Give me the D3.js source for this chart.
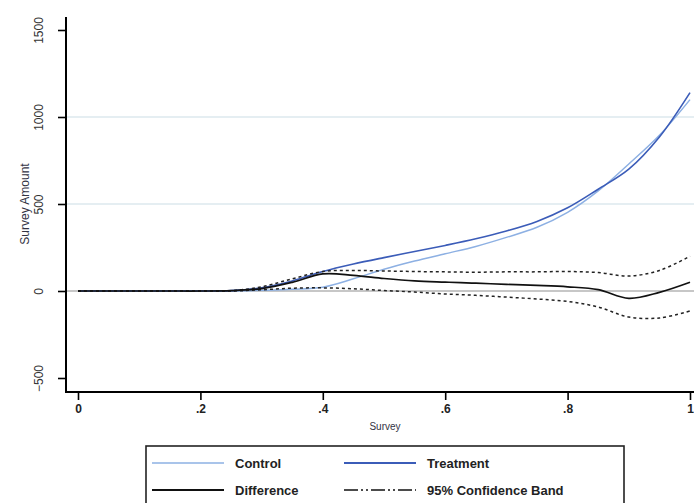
<!DOCTYPE html>
<html>
<head>
<meta charset="utf-8">
<script src="https://cdn.jsdelivr.net/npm/d3@7"></script>
<style>
  body { margin: 0; background: #fff; }
  svg { display: block; font-family: "Liberation Sans", Arial, sans-serif; }
</style>
</head>
<body>
<div class="chart"></div>
<script>
// survey share grid
const survey = [0, .05, .1, .15, .2, .25, .3, .35, .4, .45, .5, .55, .6, .65, .7, .75, .8, .85, .9, .95, 1]
const treatment = [0, 0, 0, 0, 0, 2, 18, 58, 112, 155, 192, 227, 262, 300, 345, 400, 478, 585, 700, 885, 1140]
const control = [0, 0, 0, 0, 0, 0, 4, 10, 22, 70, 125, 172, 214, 256, 308, 366, 452, 575, 730, 895, 1100]
const difference = [0, 0, 0, 0, 0, 2, 14, 50, 98, 90, 72, 58, 51, 45, 38, 32, 24, 8, -42, -8, 50]
const upperBand = [0, 0, 0, 0, 0, 2, 24, 70, 112, 118, 115, 112, 110, 108, 110, 110, 112, 106, 86, 118, 200]
const lowerBand = [0, 0, 0, 0, 0, 0, 7, 16, 18, 13, 3, -6, -17, -25, -35, -46, -60, -92, -150, -155, -115]
const xTicks = [0, .2, .4, .6, .8, 1]
const xTickLabels = ["0", ".2", ".4", ".6", ".8", "1"]
const yTicks = [-500, 0, 500, 1000, 1500]
const gridTicks = [500, 1000]

const width = 694
const height = 503

const svg = d3.select(".chart").append("svg")
  .attr("width", width)
  .attr("height", height)

const x = d3.scaleLinear().domain([0, 1]).range([78, 690])
const y = d3.scaleLinear().domain([-500, 1500]).range([378, 30])

// gridlines
svg.selectAll(".grid")
  .data(gridTicks)
  .enter()
  .append("line")
  .attr("x1", 67).attr("x2", width)
  .attr("y1", d => y(d)).attr("y2", d => y(d))
  .attr("stroke", "#dde9ee")
  .attr("stroke-width", 1.4)

// zero reference line
svg.append("line")
  .attr("x1", 67).attr("x2", width)
  .attr("y1", y(0)).attr("y2", y(0))
  .attr("stroke", "#b4b4b4")
  .attr("stroke-width", 1.4)

const line = vals => d3.line()
  .x((d, i) => x(survey[i]))
  .y(d => y(d))
  .curve(d3.curveCatmullRom.alpha(0.5))(vals)

const series = [
  { vals: control, color: "#8db0e3", w: 1.5, dash: null },
  { vals: treatment, color: "#3b5cb8", w: 1.6, dash: null },
  { vals: upperBand, color: "#222", w: 1.5, dash: "3,3" },
  { vals: lowerBand, color: "#222", w: 1.5, dash: "3,3" },
  { vals: difference, color: "#111", w: 1.7, dash: null }
]

svg.selectAll(".series")
  .data(series)
  .enter()
  .append("path")
  .attr("d", d => line(d.vals))
  .attr("fill", "none")
  .attr("stroke", d => d.color)
  .attr("stroke-width", d => d.w)
  .attr("stroke-dasharray", d => d.dash)

// axes
const xAxis = svg.append("g")
  .attr("transform", "translate(0,392)")
  .call(d3.axisBottom(x).tickValues(xTicks).tickFormat((d, i) => xTickLabels[i]).tickSize(8).tickPadding(4))
xAxis.select(".domain").remove()
xAxis.selectAll("line").attr("stroke", "#000").attr("stroke-width", 1.6)
xAxis.selectAll("text").attr("fill", "#222").style("font-size", "12px").style("font-weight", "bold")

const yAxis = svg.append("g")
  .attr("transform", "translate(66,0)")
  .call(d3.axisLeft(y).tickValues(yTicks).tickSize(8).tickFormat(d => d === -500 ? "\u2212500" : d))
yAxis.select(".domain").remove()
yAxis.selectAll("line").attr("stroke", "#000").attr("stroke-width", 1.6)
yAxis.selectAll("text")
  .attr("x", null).attr("dy", null)
  .attr("transform", "translate(-27,0) rotate(-90)")
  .attr("text-anchor", "middle")
  .attr("dy", "0.35em")
  .attr("fill", "#333")
  .style("font-size", "12px")

svg.append("path")
  .attr("d", "M66,17V392H" + width)
  .attr("fill", "none")
  .attr("stroke", "#000")
  .attr("stroke-width", 2)

svg.append("text")
  .attr("transform", "translate(25,204) rotate(-90)")
  .attr("text-anchor", "middle")
  .attr("dy", "0.35em")
  .attr("fill", "#334")
  .style("font-size", "12px")
  .text("Survey Amount")

svg.append("text")
  .attr("x", 385).attr("y", 430)
  .attr("text-anchor", "middle")
  .attr("fill", "#334")
  .style("font-size", "10px")
  .text("Survey")

// Legend
svg.append("rect")
  .attr("x", 146).attr("y", 446)
  .attr("width", 478).attr("height", 70)
  .attr("fill", "#fff")
  .attr("stroke", "#222")
  .attr("stroke-width", 1.6)

const legend = [
  { label: "Control", color: "#8db0e3", dash: null, w: 1.6, lx: 152, ly: 463 },
  { label: "Treatment", color: "#3b5cb8", dash: null, w: 1.8, lx: 344, ly: 463 },
  { label: "Difference", color: "#111", dash: null, w: 1.8, lx: 152, ly: 490 },
  { label: "95% Confidence Band", color: "#111", dash: "14,3,2,3,2,3", w: 1.6, lx: 344, ly: 490 }
]

const item = svg.selectAll(".legend")
  .data(legend)
  .enter()
  .append("g")

item.append("line")
  .attr("x1", d => d.lx).attr("x2", d => d.lx + 72)
  .attr("y1", d => d.ly).attr("y2", d => d.ly)
  .attr("stroke", d => d.color)
  .attr("stroke-width", d => d.w)
  .attr("stroke-dasharray", d => d.dash)

item.append("text")
  .attr("x", d => d.lx + 83).attr("y", d => d.ly)
  .attr("dy", "0.35em")
  .attr("fill", "#222")
  .style("font-size", "13px")
  .style("font-weight", "bold")
  .text(d => d.label)
</script>
</body>
</html>
